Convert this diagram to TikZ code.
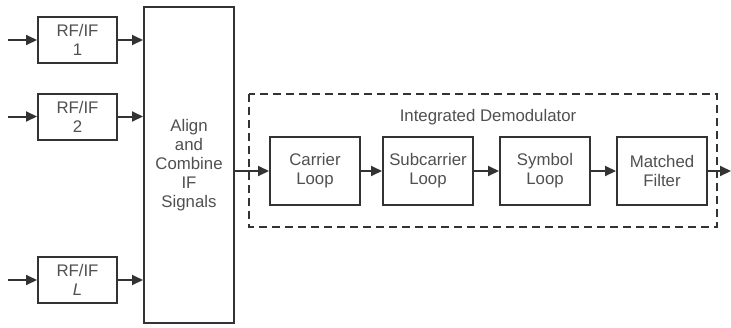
\documentclass[tikz,border=0pt]{standalone}
\usepackage{fontspec}
\setmainfont{Liberation Sans}
\usetikzlibrary{arrows.meta}
\definecolor{linegray}{HTML}{333333}
\definecolor{textgray}{HTML}{505050}
\begin{document}
\begin{tikzpicture}[x=1pt,y=-1pt,
  blockbox/.style={draw=linegray, line width=2pt, fill=white, align=center,
    text=textgray, font=\fontsize{16.8}{19}\selectfont, inner sep=0pt},
  rfbox/.style={blockbox, minimum width=79pt, minimum height=46pt},
  loopbox/.style={blockbox, minimum width=90pt, minimum height=68pt},
  arr/.style={draw=linegray, line width=2pt,
    -{Triangle[length=11pt,width=10pt]}},
  groupbox/.style={draw=linegray, line width=2pt, dash pattern=on 8pt off 5pt}]
  \useasboundingbox (0,0) rectangle (731,327);

  % front-end channels
  \node[rfbox] (rf1) at (77.5,40) {RF/IF\\1};
  \node[rfbox] (rf2) at (77.5,116.5) {RF/IF\\2};
  \node[rfbox] (rfL) at (77.5,280) {RF/IF\\\textit{L}};

  \coordinate (in1) at (8,40);
  \coordinate (in2) at (8,116.5);
  \coordinate (inL) at (8,280);

  % combiner
  \node[blockbox, minimum width=90pt, minimum height=316pt] (comb) at (189,165)
    {Align\\and\\Combine\\IF\\Signals};

  % demodulator group
  \draw[groupbox] (249,94) rectangle (717,227);
  \node[text=textgray, font=\fontsize{16.8}{19}\selectfont] (demod) at (488,117)
    {Integrated Demodulator};

  \node[loopbox] (carrier) at (315,171) {Carrier\\Loop};
  \node[loopbox] (subcar) at (428,171) {Subcarrier\\Loop};
  \node[loopbox] (symbol) at (545,171) {Symbol\\Loop};
  \node[loopbox] (matched) at (662,171) {Matched\\Filter};
  \coordinate (out) at (731,171);

  % connectors
  \draw[arr] (in1) -- (rf1);
  \draw[arr] (in2) -- (rf2);
  \draw[arr] (inL) -- (rfL);
  \draw[arr] (rf1.east) -- (rf1.east -| comb.west);
  \draw[arr] (rf2.east) -- (rf2.east -| comb.west);
  \draw[arr] (rfL.east) -- (rfL.east -| comb.west);
  \draw[arr] (comb.east |- carrier.west) -- (carrier.west);
  \draw[arr] (carrier) -- (subcar);
  \draw[arr] (subcar) -- (symbol);
  \draw[arr] (symbol) -- (matched);
  \draw[arr] (matched) -- (out);
\end{tikzpicture}
\end{document}
